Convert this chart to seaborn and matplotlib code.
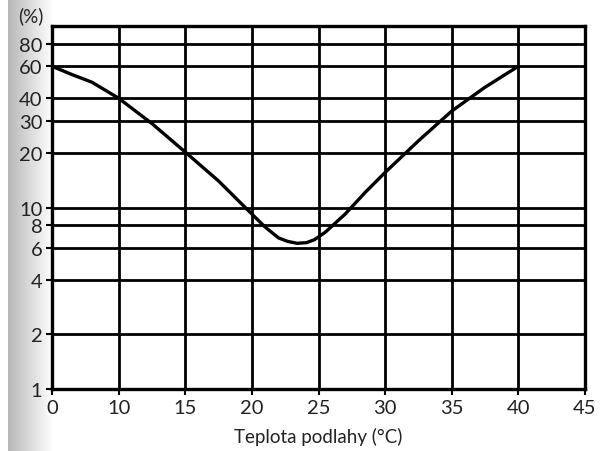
import numpy as np
import pandas as pd
import matplotlib
matplotlib.use("Agg")
import matplotlib.pyplot as plt
import seaborn as sns

# Data (floor temperature vs. percentage dissatisfied)
temperature = [5, 6.5, 8, 10, 12.5, 15, 17.5, 20, 21, 22, 22.7, 23.4, 24.1, 24.7, 25.5, 27, 28.5, 30, 32.5, 35, 37.5, 40]
dissatisfied = [60, 54, 49, 40, 29, 20.2, 14, 9.2, 7.8, 6.8, 6.5, 6.35, 6.4, 6.65, 7.3, 9.2, 12.1, 15.6, 23.3, 34, 46, 60]

x_ticks = [5, 10, 15, 20, 25, 30, 35, 40, 45]
x_tick_labels = ["0", "10", "15", "20", "25", "30", "35", "40", "45"]
y_ticks = [1, 2, 4, 6, 8, 10, 20, 30, 40, 60, 80]
y_tick_labels = ["1", "2", "4", "6", "8", "10", "20", "30", "40", "60", "80"]
x_label = "Teplota podlahy (°C)"
y_unit = "(%)"

sns.set_theme(style="white")
plt.rcParams['font.family'] = ['Lato', 'DejaVu Sans']

fig = plt.figure(figsize=(6.03, 4.52), dpi=100)

# scanned-page shading at the left edge
grad_ax = fig.add_axes([8 / 603, 0, 46 / 603, 1])
grad = np.linspace(0.62, 1.0, 256) ** 0.7
grad_ax.imshow(np.tile(grad, (10, 1)), cmap="gray", vmin=0, vmax=1, aspect="auto",
               extent=[0, 1, 0, 1])
grad_ax.axis("off")

ax = fig.add_axes([52 / 603, 1 - 390 / 452, 533 / 603, 363 / 452])
df = pd.DataFrame({"t": temperature, "p": dissatisfied})
sns.lineplot(data=df, x="t", y="p", ax=ax, color="black", linewidth=2.4, zorder=5)

ax.set_yscale("log")
ax.set_xlim(5, 45)
ax.set_ylim(1, 100)
ax.set_xticks(x_ticks)
ax.set_xticklabels(x_tick_labels)
ax.set_yticks(y_ticks)
ax.set_yticklabels(y_tick_labels)
ax.minorticks_off()

for yv in y_ticks[1:]:
    ax.axhline(yv, color="black", linewidth=2.0, zorder=2)
for xv in x_ticks[1:-1]:
    ax.axvline(xv, color="black", linewidth=2.0, zorder=2)

for s in ax.spines.values():
    s.set_visible(True)
    s.set_color("black")
    s.set_linewidth(2.4)

ax.tick_params(axis="both", which="major", direction="out", length=4, width=1.5,
               color="black", labelsize=14.5, labelcolor="#222222", pad=3,
               left=True, bottom=True)
ax.set_xlabel(x_label, fontsize=13.5, color="#222222", labelpad=8)
ax.set_ylabel("")
ax.text(-0.04, 1.03, y_unit, transform=ax.transAxes, fontsize=13.5, color="#222222",
        ha="center", va="center")

fig.savefig("out.png", dpi=100, facecolor="white")
